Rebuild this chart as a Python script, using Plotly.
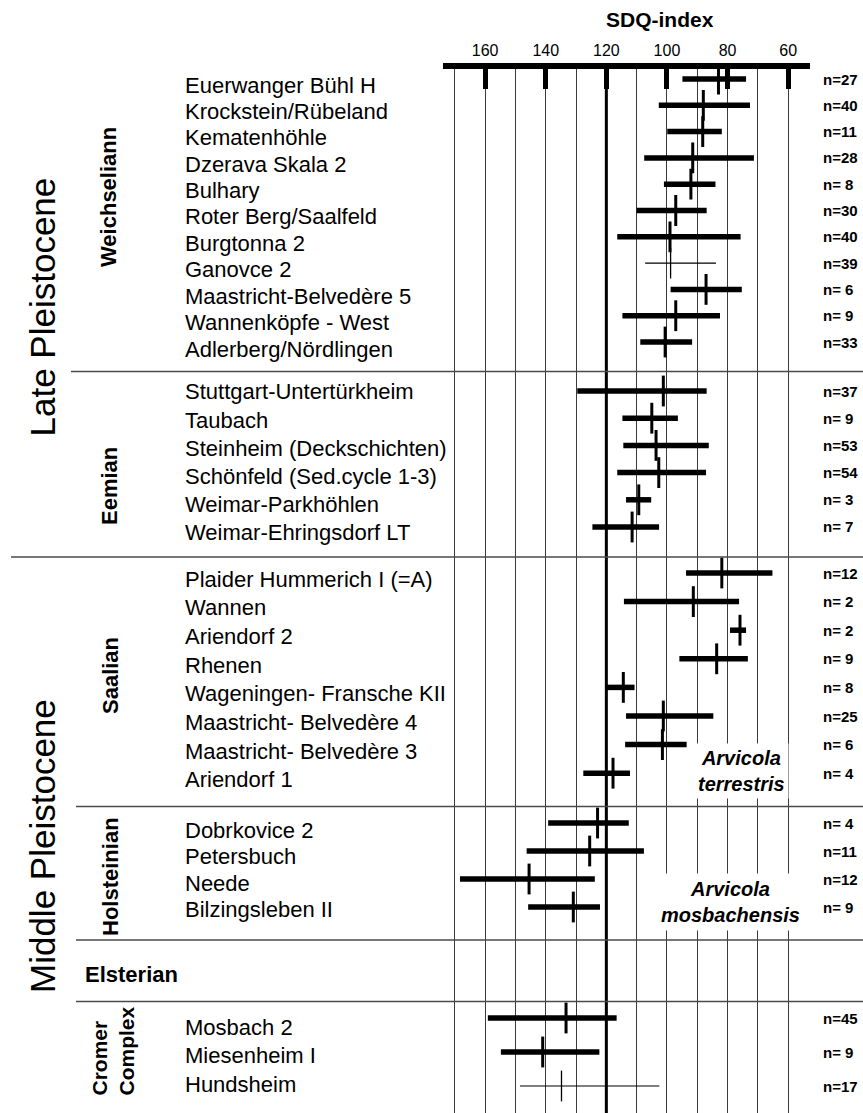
import plotly.graph_objects as go

# ---------------- data ----------------
sites = [
    "Euerwanger Bühl H", "Krockstein/Rübeland", "Kematenhöhle", "Dzerava Skala 2",
    "Bulhary", "Roter Berg/Saalfeld", "Burgtonna 2", "Ganovce 2",
    "Maastricht-Belvedère 5", "Wannenköpfe - West", "Adlerberg/Nördlingen",
    "Stuttgart-Untertürkheim", "Taubach", "Steinheim (Deckschichten)",
    "Schönfeld (Sed.cycle 1-3)", "Weimar-Parkhöhlen", "Weimar-Ehringsdorf LT",
    "Plaider Hummerich I (=A)", "Wannen", "Ariendorf 2", "Rhenen",
    "Wageningen- Fransche KII", "Maastricht- Belvedère 4", "Maastricht- Belvedère 3",
    "Ariendorf 1",
    "Dobrkovice 2", "Petersbuch", "Neede", "Bilzingsleben II",
    "Mosbach 2", "Miesenheim I", "Hundsheim",
]
stages = (["Weichselian"] * 11 + ["Eemian"] * 6 + ["Saalian"] * 8
          + ["Holsteinian"] * 4 + ["Cromer"] * 3)
sdq_mean = [83.0, 88.0, 88.2, 91.5, 92.1, 97.1, 99.0, 98.8, 87.1, 97.1, 100.6,
            101.2, 105.0, 103.6, 102.7, 109.3, 111.5,
            81.9, 91.3, 75.9, 83.6, 114.4, 101.2, 101.5, 117.8,
            122.9, 125.5, 145.5, 130.9,
            133.3, 141.0, 134.8]
sdq_high = [94.9, 102.7, 99.9, 107.5, 101.0, 110.0, 116.4, 107.2, 98.8, 114.7, 108.8,
            129.6, 114.7, 114.4, 116.4, 113.5, 124.6,
            93.7, 114.2, 79.2, 95.9, 120.1, 113.5, 113.8, 127.6,
            139.2, 146.3, 168.3, 145.8,
            159.1, 154.8, 148.5]
sdq_low = [73.9, 72.6, 81.9, 71.3, 84.0, 86.9, 75.7, 83.8, 75.3, 82.5, 91.7,
           86.9, 96.4, 86.2, 87.1, 105.2, 102.6,
           65.2, 76.2, 73.9, 73.3, 110.7, 84.7, 93.5, 112.2,
           112.6, 107.6, 123.8, 122.1,
           116.6, 122.3, 102.5]
n_values = [27, 40, 11, 28, 8, 30, 40, 39, 6, 9, 33,
            37, 9, 53, 54, 3, 7,
            12, 2, 2, 9, 8, 25, 6, 4,
            4, 11, 12, 9,
            45, 9, 17]
thin_sites = {"Ganovce 2", "Hundsheim"}
tick_values = [160, 140, 120, 100, 80, 60]

# ---------------- layout helpers (pixel based) ----------------
W, H = 863, 1113
PLOT_TOP = 68.7
X_LEFT, X_RIGHT = 443.3, 810.0
X_RANGE = [173.8, 52.8]


def px_x(p):
    return p / W


def px_y(p):
    return 1 - p / H


# rows (bar y start, step) and labels (y start, step) per stage, in pixels
stage_layout = {
    "Weichselian": (79, 26.3, 85, 26.4),
    "Eemian": (391, 27.2, 392, 28.0),
    "Saalian": (573, 28.6, 579, 28.7),
    "Holsteinian": (823, 28.0, 830, 26.5),
    "Cromer": (1018, 34.0, 1027, 28.5),
}
row_y, label_y = [], []
counter = {}
for st in stages:
    k = counter.get(st, 0)
    counter[st] = k + 1
    r0, rs, l0, ls = stage_layout[st]
    row_y.append(r0 + k * rs)
    label_y.append(l0 + k * ls)

fig = go.Figure()


def segs(idx):
    xs, ys = [], []
    for i in idx:
        xs += [sdq_high[i], sdq_low[i], None]
        ys += [row_y[i], row_y[i], None]
    return xs, ys


thick = [i for i, s in enumerate(sites) if s not in thin_sites]
thin = [i for i, s in enumerate(sites) if s in thin_sites]

for idx, lw, mw in [(thick, 5.5, 3), (thin, 1.2, 1.3)]:
    xs, ys = segs(idx)
    fig.add_trace(go.Scatter(x=xs, y=ys, mode="lines",
                             line=dict(color="black", width=lw),
                             hoverinfo="skip", showlegend=False))
    fig.add_trace(go.Scatter(x=[sdq_mean[i] for i in idx], y=[row_y[i] for i in idx],
                             mode="markers",
                             marker=dict(symbol="line-ns", size=22,
                                         line=dict(color="black", width=mw)),
                             text=[sites[i] for i in idx],
                             hovertemplate="%{text}: %{x}<extra></extra>",
                             showlegend=False))

shapes = []
# thick reference line at 120
shapes.append(dict(type="line", xref="x", yref="paper", x0=120, x1=120,
                   y0=0, y1=px_y(PLOT_TOP), line=dict(color="black", width=3),
                   layer="above"))
# horizontal separators
for yy, x0 in [(371.5, 71), (557, 11), (806.5, 76), (940, 76), (1001.5, 76)]:
    shapes.append(dict(type="line", xref="paper", yref="paper",
                       x0=px_x(x0), x1=1.0, y0=px_y(yy), y1=px_y(yy),
                       line=dict(color="#4a4a4a", width=1.5)))

ann = []
SITE_FONT = dict(family="Arial", size=22, color="black")
for i, s in enumerate(sites):
    ann.append(dict(text=s, xref="paper", yref="paper", x=px_x(183), y=px_y(label_y[i]),
                    xanchor="left", yanchor="middle", showarrow=False, font=SITE_FONT))
    ann.append(dict(text=f"n={n_values[i]:2d}", xref="paper", yref="paper",
                    x=px_x(821), y=px_y(row_y[i]), xanchor="left", yanchor="middle",
                    showarrow=False,
                    font=dict(family="Arial", size=15, color="black", weight="bold")))

BIG = dict(family="Arial", size=35, color="black")
ann.append(dict(text="Late Pleistocene", xref="paper", yref="paper", x=px_x(42),
                y=px_y(307.5), textangle=-90, showarrow=False, font=BIG,
                xanchor="center", yanchor="middle"))
ann.append(dict(text="Middle Pleistocene", xref="paper", yref="paper", x=px_x(42),
                y=px_y(846), textangle=-90, showarrow=False, font=BIG,
                xanchor="center", yanchor="middle"))

GF = dict(family="Arial", size=22, color="black", weight="bold")
for txt, cx, cy in [("Weichseliann", 109, 197), ("Eemian", 109, 486),
                    ("Saalian", 110, 676), ("Holsteinian", 110, 877)]:
    ann.append(dict(text=txt, xref="paper", yref="paper", x=px_x(cx), y=px_y(cy),
                    textangle=-90, showarrow=False, font=GF,
                    xanchor="center", yanchor="middle"))
ann.append(dict(text="Elsterian", xref="paper", yref="paper", x=px_x(83), y=px_y(974),
                xanchor="left", yanchor="middle", showarrow=False, font=GF))
ann.append(dict(text="Cromer<br>Complex", xref="paper", yref="paper", x=px_x(112.5),
                y=px_y(1051), textangle=-90, align="left", showarrow=False,
                font=dict(family="Arial", size=21, color="black", weight="bold"),
                xanchor="center", yanchor="middle"))

SPF = dict(family="Arial", size=20, color="black", weight="bold", style="italic")
ann.append(dict(text="Arvicola<br>terrestris", xref="paper", yref="paper",
                x=px_x(741), y=px_y(771), showarrow=False, font=SPF, align="center",
                bgcolor="white", borderpad=3, xanchor="center", yanchor="middle"))
ann.append(dict(text="Arvicola<br>mosbachensis", xref="paper", yref="paper",
                x=px_x(730), y=px_y(902), showarrow=False, font=SPF, align="center",
                bgcolor="white", borderpad=4, xanchor="center", yanchor="middle"))

ann.append(dict(text="SDQ-index", xref="paper", yref="paper", x=px_x(660), y=px_y(20),
                showarrow=False, xanchor="center", yanchor="middle",
                font=dict(family="Arial", size=21, color="black", weight="bold")))

fig.update_layout(
    width=W, height=H,
    margin=dict(l=0, r=0, t=0, b=0),
    paper_bgcolor="white", plot_bgcolor="white",
    showlegend=False,
    shapes=shapes, annotations=ann,
    xaxis=dict(
        domain=[px_x(X_LEFT), px_x(X_RIGHT)],
        range=X_RANGE, side="top",
        showline=True, linewidth=6, linecolor="black",
        ticks="inside", ticklen=20, tickwidth=5, tickcolor="black",
        tickvals=tick_values, ticktext=[str(v) for v in tick_values],
        tickfont=dict(family="Arial", size=16, color="black"),
        showgrid=True, gridcolor="#3a3a3a", gridwidth=1,
        minor=dict(dtick=10, tick0=0, showgrid=True, gridcolor="#3a3a3a", gridwidth=1),
        zeroline=False, fixedrange=True,
    ),
    yaxis=dict(
        domain=[0, px_y(PLOT_TOP)],
        range=[H, PLOT_TOP], visible=False, fixedrange=True,
    ),
)

fig.write_html(
    "out.html",
    config={"displayModeBar": False},
    post_script="document.body.style.margin='0px';document.body.style.overflow='hidden';",
)
